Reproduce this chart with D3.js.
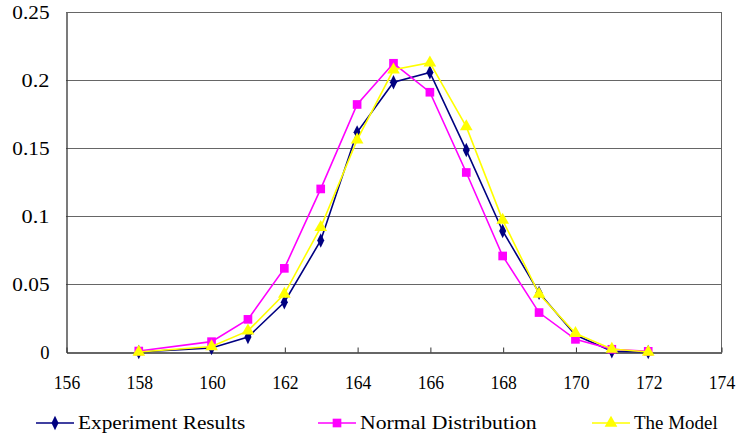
<!DOCTYPE html>
<html>
<head>
<meta charset="utf-8">
<script src="https://cdn.jsdelivr.net/npm/d3@7"></script>
<style>
  body { margin: 0; background: #fff; }
  svg text { font-family: "Liberation Serif", "DejaVu Serif", serif; fill: #000; }
</style>
</head>
<body>
<svg id="chart" width="737" height="436"></svg>
<script>
// heights (cm) sampled
const heights = [158, 160, 161, 162, 163, 164, 165, 166, 167, 168, 169, 170, 171, 172];

const experiment = [0, 0.003, 0.011, 0.0366, 0.082, 0.1615, 0.1983, 0.2056, 0.1485, 0.089, 0.0435, 0.0125, 0.0005, 0];
const normalDist = [0.0007, 0.0076, 0.024, 0.0615, 0.1199, 0.182, 0.2123, 0.191, 0.132, 0.0706, 0.029, 0.0093, 0.002, 0.0005];
const model = [0, 0.004, 0.0155, 0.0426, 0.0917, 0.156, 0.2075, 0.2127, 0.1657, 0.097, 0.0426, 0.0137, 0.0022, 0];

const xTicks = [156, 158, 160, 162, 164, 166, 168, 170, 172, 174];
const yTicks = [0, 0.05, 0.1, 0.15, 0.2, 0.25];
const yTickLabels = ['0', '0.05', '0.1', '0.15', '0.2', '0.25'];

const seriesNames = ['Experiment Results', 'Normal Distribution', 'The Model'];

const width = 737;
const height = 436;
const margin = { top: 12, right: 16, bottom: 84, left: 66 };

const svg = d3.select('#chart');

const x = d3.scaleLinear()
  .domain([156, 174])
  .range([margin.left, width - margin.right]);

const y = d3.scaleLinear()
  .domain([0, 0.25])
  .range([height - margin.bottom, margin.top]);

const series = [
  { name: seriesNames[0], values: experiment, color: '#000080', symbol: d3.symbolDiamond, size: 60, sx: 0.85 },
  { name: seriesNames[1], values: normalDist, color: '#ff00ff', symbol: d3.symbolSquare, size: 75, sx: 1 },
  { name: seriesNames[2], values: model, color: '#ffff00', symbol: d3.symbolTriangle, size: 70, sx: 1 }
];

const fitText = charW => sel => sel
  .attr('font-size', 18)
  .attr('textLength', d => String(d).length * charW)
  .attr('lengthAdjust', 'spacingAndGlyphs');

// gridlines
svg.append('g')
  .selectAll('line')
  .data(yTicks.slice(1))
  .join('line')
  .attr('x1', x(156))
  .attr('x2', x(174))
  .attr('y1', d => y(d) + 0.5)
  .attr('y2', d => y(d) + 0.5)
  .attr('stroke', '#666')
  .attr('stroke-width', 1);

// frame right side
svg.append('line')
  .attr('x1', x(174) + 0.5).attr('x2', x(174) + 0.5)
  .attr('y1', y(0.25)).attr('y2', y(0))
  .attr('stroke', '#666');

// y axis
const yAxis = g => g
  .attr('transform', `translate(${x(156) + 0.5},0.5)`)
  .call(d3.axisLeft(y).tickValues(yTicks).tickSize(0).tickFormat((d, i) => yTickLabels[i]))
  .call(g => g.select('.domain').attr('stroke', '#333').attr('stroke-width', 1.3))
  .call(g => g.selectAll('.tick text')
    .attr('x', -17)
    .attr('dy', '0.35em')
    .call(fitText(9.3)));

// x axis
const xAxis = g => g
  .attr('transform', `translate(0.5,${y(0) + 0.5})`)
  .call(d3.axisTop(x).tickValues(xTicks).tickSize(5).tickSizeOuter(0).tickFormat(d3.format('d')))
  .call(g => g.select('.domain').attr('stroke', '#333').attr('stroke-width', 1.3))
  .call(g => g.selectAll('.tick line').attr('stroke', '#333'))
  .call(g => g.selectAll('.tick text')
    .attr('y', 30)
    .attr('dy', '0.35em')
    .call(fitText(8.8)));

svg.append('g').call(yAxis);
svg.append('g').call(xAxis);
svg.selectAll('.tick text').attr('font-family', null);

const line = d3.line()
  .x((d, i) => x(heights[i]))
  .y(d => y(d));

series.forEach(s => {
  const g = svg.append('g');
  g.append('path')
    .datum(s.values)
    .attr('fill', 'none')
    .attr('stroke', s.color)
    .attr('stroke-width', 1.6)
    .attr('d', line);
  g.selectAll('path.pt')
    .data(s.values)
    .join('path')
    .attr('class', 'pt')
    .attr('d', d3.symbol(s.symbol, s.size))
    .attr('transform', (d, i) => `translate(${x(heights[i])},${y(d)}) scale(${s.sx},1)`)
    .attr('fill', s.color);
});

// legend
const legendX = [36, 318, 592];
const legend = svg.append('g')
  .selectAll('g')
  .data(series)
  .join('g')
  .attr('transform', (d, i) => `translate(${legendX[i]},423)`);

legend.append('line')
  .attr('x1', 0).attr('x2', 38)
  .attr('stroke', d => d.color)
  .attr('stroke-width', 1.6);

legend.append('path')
  .attr('d', d => d3.symbol(d.symbol, d.size)())
  .attr('transform', d => `translate(19,0) scale(${d.sx},1)`)
  .attr('fill', d => d.color);

legend.append('text')
  .attr('x', 42)
  .attr('dy', '0.35em')
  .text(d => d.name)
  .datum(d => d.name)
  .call(fitText(9.3));
</script>
</body>
</html>
